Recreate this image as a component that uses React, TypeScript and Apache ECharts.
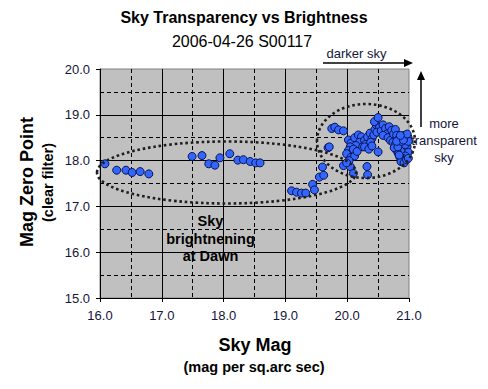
import React, { useEffect, useRef } from "react";
import * as echarts from "echarts";

// Sky Mag (x) and Mag Zero Point (y)
const skyMag = [
  16.08, 16.27, 16.42, 16.52, 16.65, 16.79,
  17.49, 17.65, 17.76, 17.86, 17.94, 18.1, 18.23, 18.32, 18.43, 18.52, 18.59,
  19.1, 19.18, 19.26, 19.33, 19.44, 19.47, 19.55, 19.62, 19.6,
  19.75, 19.8, 19.86, 19.94, 19.69, 19.71,
  19.94, 20.05, 20.1, 20.32, 20.33, 20.5,
  20.02, 20.06, 20.12, 20.18, 20.23, 20.2, 20.14, 20.05, 20.02, 20.08, 19.99, 20.06, 20.12, 20.03, 19.99, 20.1, 20.16, 20.25, 20.28, 20.3,
  20.33, 20.37, 20.4, 20.43, 20.38, 20.45, 20.47, 20.44, 20.5, 20.52, 20.48, 20.28, 20.35, 20.4,
  20.55, 20.58, 20.62, 20.64, 20.68, 20.72, 20.58, 20.66, 20.7, 20.75, 20.78, 20.8,
  20.74, 20.78, 20.82, 20.85, 20.88, 20.92, 20.95, 20.98, 20.96, 20.9, 20.86, 20.8, 20.76, 20.83, 20.88, 20.93, 20.97, 20.99, 20.94, 20.9, 20.85, 20.87, 20.92, 20.96, 20.99, 20.82, 20.94, 20.99, 20.88, 20.8, 20.91, 20.97, 20.86, 20.84,
];
const zeroPoint = [
  17.93, 17.79, 17.79, 17.74, 17.76, 17.71,
  18.09, 18.11, 17.93, 17.9, 18.06, 18.15, 18.01, 18.02, 17.98, 17.95, 17.95,
  17.34, 17.31, 17.29, 17.29, 17.48, 17.36, 17.64, 17.68, 17.86,
  18.7, 18.73, 18.67, 18.65, 18.28, 18.3,
  17.89, 17.87, 17.72, 17.87, 17.69, 18.19,
  18.45, 18.38, 18.5, 18.56, 18.52, 18.4, 18.33, 18.3, 18.22, 18.19, 18.15, 18.07, 18.1, 18.0, 17.95, 18.25, 18.2, 18.3, 18.44, 18.36,
  18.52, 18.6, 18.48, 18.56, 18.4, 18.68, 18.78, 18.85, 18.94, 18.72, 18.62, 18.3, 18.25, 18.32,
  18.65, 18.78, 18.7, 18.58, 18.74, 18.66, 18.55, 18.5, 18.44, 18.58, 18.68, 18.55,
  18.4, 18.35, 18.45, 18.38, 18.5, 18.55, 18.48, 18.52, 18.4, 18.32, 18.25, 18.22, 18.28, 18.15, 18.18, 18.22, 18.3, 18.18, 18.1, 18.05, 18.08, 17.98, 17.95, 18.02, 18.05, 18.3, 18.35, 18.42, 18.42, 18.42, 18.45, 18.58, 18.55, 18.12,
];
const xTicks = [16, 17, 18, 19, 20, 21];
const yTicks = [15, 16, 17, 18, 19, 20];

const FONT = "'Liberation Sans', Arial, sans-serif";
const LABEL_COLOR = "#15153a";

export default function App() {
  const ref = useRef<HTMLDivElement>(null);

  useEffect(() => {
    document.body.style.margin = "0";
    if (!ref.current) return;
    const chart = echarts.init(ref.current, undefined, { renderer: "svg" });
    const data = skyMag.map((x, i) => [x, zeroPoint[i]]);

    const axisCommon = {
      type: "value" as const,
      axisLine: { show: true, onZero: false, lineStyle: { color: "#000", width: 1 } },
      axisTick: { show: true, inside: false, length: 4, lineStyle: { color: "#000" } },
      axisLabel: {
        fontFamily: FONT,
        fontSize: 13,
        color: LABEL_COLOR,
        formatter: (v: number) => v.toFixed(1),
      },
      splitLine: { show: true, showMaxLine: false, lineStyle: { color: "#000", width: 1, type: "solid" as const } },
      minorTick: { show: false, splitNumber: 2 },
      minorSplitLine: { show: true, lineStyle: { color: "#000", width: 1, type: [4, 3] } },
    };

    const txt = (
      text: string,
      x: number,
      y: number,
      size: number,
      bold: boolean,
      extra: any = {}
    ) => ({
      type: "text",
      x,
      y,
      z: 110,
      ...extra,
      style: {
        text,
        fontFamily: FONT,
        fontSize: size,
        fontWeight: bold ? "bold" : "normal",
        fill: extra.fill || "#000",
        align: "center",
        verticalAlign: "middle",
        lineHeight: extra.lineHeight,
      },
    });

    chart.setOption({
      animation: false,
      grid: {
        left: 100,
        top: 69,
        width: 309,
        height: 229,
        show: true,
        backgroundColor: "#c0c0c0",
        borderColor: "#808080",
        borderWidth: 1,
      },
      xAxis: {
        ...axisCommon,
        min: xTicks[0],
        max: xTicks[xTicks.length - 1],
        interval: 1,
        axisLabel: { ...axisCommon.axisLabel, margin: 11 },
      },
      yAxis: {
        ...axisCommon,
        min: yTicks[0],
        max: yTicks[yTicks.length - 1],
        interval: 1,
        axisLabel: { ...axisCommon.axisLabel, margin: 10 },
      },
      series: [
        {
          type: "scatter",
          data,
          symbol: "circle",
          symbolSize: 8,
          clip: false,
          itemStyle: { color: "#3366ff", borderColor: "#0a1450", borderWidth: 1, opacity: 1 },
        },
      ],
      graphic: [
        txt("Sky Transparency vs Brightness", 244, 17, 16, true),
        txt("2006-04-26 S00117", 242, 41, 16, false),
        txt("Sky Mag", 255, 345, 18, true),
        txt("(mag per sq.arc sec)", 254, 367, 14.5, true),
        txt("Mag Zero Point", 27, 182, 18, true, { rotation: Math.PI / 2 }),
        txt("(clear filter)", 48, 182.5, 14.5, true, { rotation: Math.PI / 2 }),
        txt("darker sky", 356.5, 53, 13, false, { fill: LABEL_COLOR }),
        txt("more\ntransparent\nsky", 444, 140, 13, false, { fill: LABEL_COLOR, lineHeight: 17 }),
        txt("Sky\nbrightnening\nat Dawn", 210.5, 238.5, 14.5, true, { lineHeight: 17.7 }),
        {
          type: "ellipse",
          z: 100,
          shape: { cx: 226.5, cy: 172.5, rx: 129.5, ry: 31 },
          style: { fill: "none", stroke: "#1e1e1e", lineWidth: 2.6, lineDash: [2.6, 2.8] },
        },
        {
          type: "ellipse",
          z: 100,
          shape: { cx: 366, cy: 141, rx: 49, ry: 37 },
          style: { fill: "none", stroke: "#1e1e1e", lineWidth: 2.6, lineDash: [2.6, 2.8] },
        },
        {
          type: "line",
          z: 100,
          shape: { x1: 323, y1: 63, x2: 406, y2: 63 },
          style: { stroke: "#000", lineWidth: 1.5 },
        },
        {
          type: "polygon",
          z: 100,
          shape: { points: [[413, 63], [404, 59], [404, 67]] },
          style: { fill: "#000" },
        },
        {
          type: "line",
          z: 100,
          shape: { x1: 421, y1: 127, x2: 421, y2: 78 },
          style: { stroke: "#000", lineWidth: 1.5 },
        },
        {
          type: "polygon",
          z: 100,
          shape: { points: [[421, 71], [417, 80], [425, 80]] },
          style: { fill: "#000" },
        },
      ],
    });

    return () => chart.dispose();
  }, []);

  return <div ref={ref} style={{ width: 488, height: 389 }} />;
}
